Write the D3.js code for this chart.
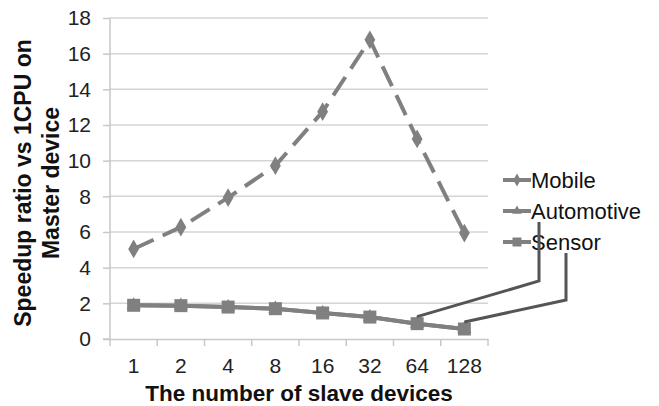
<!DOCTYPE html>
<html>
<head>
<meta charset="utf-8">
<script src="https://cdnjs.cloudflare.com/ajax/libs/d3/7.8.5/d3.min.js"></script>
<style>
  body { margin: 0; background: #fff; }
  svg { display: block; }
</style>
</head>
<body>
<div id="chart"></div>
<script>
const width = 659, height = 406;
const margin = { top: 18, right: 171, bottom: 67, left: 110 };

const categories = ["1", "2", "4", "8", "16", "32", "64", "128"];
const mobile = [5.05, 6.27, 7.93, 9.72, 12.75, 16.78, 11.22, 5.94];
const automotive = [1.89, 1.87, 1.79, 1.70, 1.46, 1.23, 0.86, 0.56];
const sensor = [1.89, 1.87, 1.79, 1.70, 1.46, 1.23, 0.86, 0.56];
const yTicks = [0, 2, 4, 6, 8, 10, 12, 14, 16, 18];

const series = [
  { name: "Mobile", values: mobile, marker: "diamond", dash: "22,10" },
  { name: "Automotive", values: automotive, marker: "triangle", dash: null },
  { name: "Sensor", values: sensor, marker: "square", dash: null }
];

const font = "'Liberation Sans', Arial, sans-serif";
const grey = "#808080";

const svg = d3.select("#chart").append("svg")
  .attr("width", width)
  .attr("height", height);

const plotW = width - margin.left - margin.right;
const plotH = height - margin.top - margin.bottom;

const g = svg.append("g")
  .attr("transform", `translate(${margin.left},${margin.top})`);

const x = d3.scaleBand().domain(categories).range([0, plotW]);
const y = d3.scaleLinear().domain([0, 18]).range([plotH, 0]);

// gridlines
g.append("g")
  .selectAll("line")
  .data(yTicks.filter(d => d > 0))
  .enter().append("line")
  .attr("x1", 0)
  .attr("x2", plotW)
  .attr("y1", d => y(d))
  .attr("y2", d => y(d))
  .attr("stroke", "#d4d4d4")
  .attr("stroke-width", 1.5);

// y axis
const yAxis = g.append("g")
  .call(d3.axisLeft(y).tickValues(yTicks).tickSize(7).tickPadding(12));
yAxis.select(".domain").attr("stroke", "#c8c8c8").attr("stroke-width", 1.5)
  .attr("d", `M-7,${y(0)}H0V${y(18)}`);
yAxis.selectAll(".tick line").attr("stroke", "#c8c8c8").attr("stroke-width", 1.5);
yAxis.selectAll(".tick text")
  .attr("font-family", font).attr("font-size", 21).attr("fill", "#222");

// x axis
const xAxis = g.append("g")
  .attr("transform", `translate(0,${plotH})`)
  .call(d3.axisBottom(x).tickSize(0).tickPadding(19));
xAxis.select(".domain").attr("stroke", "#c8c8c8").attr("stroke-width", 1.5);
xAxis.selectAll(".tick text")
  .attr("font-family", font).attr("font-size", 21).attr("fill", "#222");
// category boundary tick marks
xAxis.append("g")
  .selectAll("line")
  .data(categories.map((c, i) => i).concat([categories.length]))
  .enter().append("line")
  .attr("x1", d => d * x.step())
  .attr("x2", d => d * x.step())
  .attr("y1", 0)
  .attr("y2", 7)
  .attr("stroke", "#c8c8c8")
  .attr("stroke-width", 1.5);

const cx = d => x(d) + x.bandwidth() / 2;

const markerPath = (type, s) => {
  if (type === "diamond") return d3.symbol().type(d3.symbolDiamond).size(s * s * 0.6)();
  if (type === "triangle") return d3.symbol().type(d3.symbolTriangle).size(s * s * 0.5)();
  return d3.symbol().type(d3.symbolSquare).size(s * s)();
};

const line = d3.line()
  .x((d, i) => cx(categories[i]))
  .y(d => y(d));

series.forEach(s => {
  const sg = g.append("g");
  sg.append("path")
    .datum(s.values)
    .attr("d", line)
    .attr("fill", "none")
    .attr("stroke", grey)
    .attr("stroke-width", 4)
    .attr("stroke-dasharray", s.dash)
    .attr("stroke-linejoin", "round");
  sg.selectAll("path.m")
    .data(s.values)
    .enter().append("path")
    .attr("class", "m")
    .attr("d", markerPath(s.marker, 13))
    .attr("transform", (d, i) => `translate(${cx(categories[i])},${y(d)})`)
    .attr("fill", grey);
});

// axis titles
svg.append("text")
  .attr("x", margin.left + plotW / 2)
  .attr("y", 401)
  .attr("text-anchor", "middle")
  .attr("font-family", font)
  .attr("font-weight", "bold")
  .attr("font-size", 22.5)
  .attr("fill", "#111")
  .text("The number of slave devices");

const yTitle = svg.append("text")
  .attr("transform", `translate(0,183) rotate(-90)`)
  .attr("text-anchor", "middle")
  .attr("font-family", font)
  .attr("font-weight", "bold")
  .attr("font-size", 23)
  .attr("fill", "#111");
yTitle.append("tspan").attr("x", 0).attr("y", 31).text("Speedup ratio vs 1CPU on");
yTitle.append("tspan").attr("x", 0).attr("y", 59).text("Master device");

// legend
const legX = 503, legY0 = 180, legStep = 31;
const leg = svg.append("g");
series.forEach((s, i) => {
  const ly = legY0 + i * legStep;
  leg.append("line")
    .attr("x1", legX).attr("x2", legX + 28)
    .attr("y1", ly).attr("y2", ly)
    .attr("stroke", grey).attr("stroke-width", 4);
  leg.append("path")
    .attr("d", markerPath(s.marker, 9))
    .attr("transform", `translate(${legX + 14},${ly})`)
    .attr("fill", grey);
  leg.append("text")
    .attr("x", legX + 28)
    .attr("y", ly + 8)
    .attr("font-family", font)
    .attr("font-size", 22)
    .attr("fill", "#111")
    .text(s.name);
});

// leader lines from legend labels to the last points
const leaders = [
  { idx: 6, vx: 539, top: legY0 + legStep + 11, elbow: 281 },
  { idx: 7, vx: 566, top: legY0 + 2 * legStep + 11, elbow: 300 }
];
leaders.forEach(l => {
  const px = margin.left + cx(categories[l.idx]);
  const py = margin.top + y(sensor[l.idx]);
  svg.append("path")
    .attr("d", `M${l.vx},${l.top}V${l.elbow}L${px},${py - 7}`)
    .attr("fill", "none")
    .attr("stroke", "#555")
    .attr("stroke-width", 3);
});
</script>
</body>
</html>
